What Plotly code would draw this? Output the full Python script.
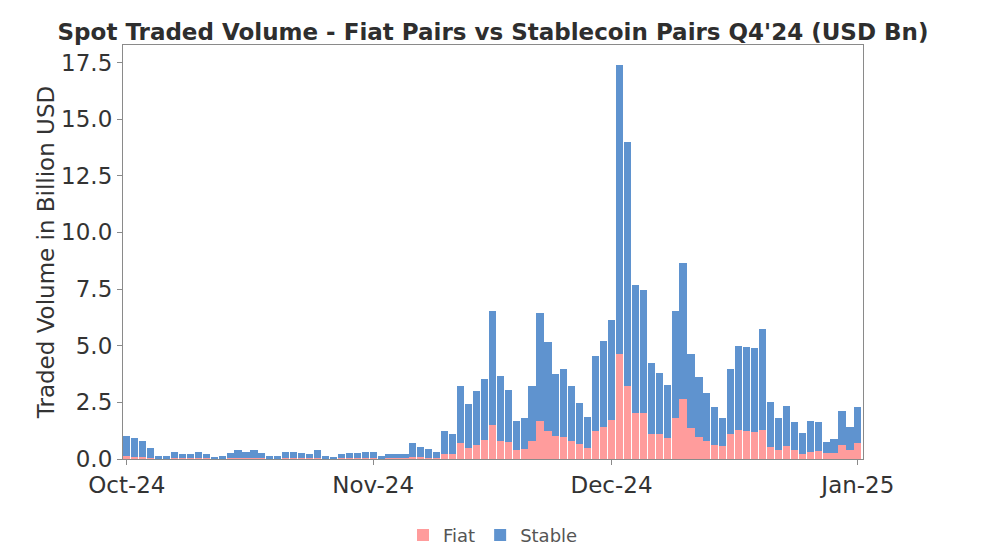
import pandas as pd
import plotly.graph_objects as go

# daily dates, Oct 1 2024 .. Jan 1 2025
dates = pd.date_range("2024-10-01", "2025-01-01", freq="D")

fiat = [
    # Oct
    0.12, 0.11, 0.10, 0.06, 0.02, 0.02, 0.04, 0.03, 0.03, 0.04, 0.03, 0.02, 0.02, 0.03, 0.04, 0.04,
    0.04, 0.03, 0.02, 0.02, 0.04, 0.04, 0.03, 0.03, 0.04, 0.02, 0.02, 0.03, 0.03, 0.03, 0.04,
    # Nov
    0.04, 0.02, 0.03, 0.03, 0.03, 0.08, 0.07, 0.06, 0.05, 0.22, 0.22, 0.69, 0.50, 0.63, 0.84,
    1.50, 0.80, 0.77, 0.40, 0.44, 0.80, 1.67, 1.25, 1.00, 0.95, 0.80, 0.66, 0.50, 1.25, 1.40,
    # Dec
    1.71, 4.64, 3.23, 2.03, 2.03, 1.10, 1.10, 0.93, 1.83, 2.67, 1.35, 0.97, 0.78, 0.60, 0.57, 1.12,
    1.28, 1.25, 1.19, 1.28, 0.54, 0.40, 0.56, 0.40, 0.22, 0.32, 0.35, 0.26, 0.26, 0.60, 0.40,
    # Jan 1
    0.69,
]

stable = [
    # Oct
    0.88, 0.82, 0.68, 0.41, 0.10, 0.10, 0.27, 0.19, 0.17, 0.29, 0.19, 0.08, 0.10, 0.25, 0.34, 0.26,
    0.36, 0.22, 0.11, 0.10, 0.27, 0.27, 0.25, 0.19, 0.36, 0.12, 0.08, 0.17, 0.22, 0.22, 0.26,
    # Nov
    0.28, 0.13, 0.19, 0.20, 0.20, 0.62, 0.47, 0.40, 0.28, 1.03, 0.88, 2.51, 1.91, 2.35, 2.71,
    5.02, 2.87, 2.26, 1.26, 1.36, 2.43, 4.76, 3.92, 2.77, 3.00, 2.40, 1.81, 1.34, 3.31, 3.81,
    # Dec
    4.43, 12.76, 10.77, 5.64, 5.43, 3.13, 2.70, 2.32, 4.69, 5.96, 3.27, 2.63, 2.12, 1.71, 1.25, 2.83,
    3.72, 3.71, 3.71, 4.45, 1.98, 1.40, 1.79, 1.22, 0.91, 1.37, 1.27, 0.47, 0.62, 1.52, 1.02,
    # Jan 1
    1.61,
]

tick_dates = ["2024-10-01", "2024-11-01", "2024-12-01", "2025-01-01"]
tick_labels = ["Oct-24", "Nov-24", "Dec-24", "Jan-25"]

FIAT_COLOR = "#ff9c9c"
STABLE_COLOR = "#5f93cf"
DAY_MS = 86400000

fig = go.Figure()
fig.add_trace(go.Bar(x=dates, y=fiat, name="Fiat", marker_color=FIAT_COLOR,
                     width=0.9 * DAY_MS, marker_line_width=0))
fig.add_trace(go.Bar(x=dates, y=stable, name="Stable", marker_color=STABLE_COLOR,
                     width=0.9 * DAY_MS, marker_line_width=0))

axis_line = "#8a8a8a"
# page body keeps an 8px margin, so the figure is sized to fit inside the window
fig.update_layout(
    barmode="stack",
    width=968,
    height=538,
    plot_bgcolor="white",
    paper_bgcolor="white",
    font={"family": "DejaVu Sans", "color": "#333333"},
    margin={"l": 115, "r": 113, "t": 37, "b": 87},
    title={
        "text": "<b>Spot Traded Volume - Fiat Pairs vs Stablecoin Pairs Q4'24 (USD Bn)</b>",
        "x": 0.5,
        "xref": "paper",
        "xanchor": "center",
        "yref": "container",
        "y": 0.955,
        "yanchor": "middle",
        "font": {"size": 23, "color": "#2e2e2e"},
    },
    xaxis={
        "type": "date",
        "range": ["2024-09-30 12:30", "2025-01-01 15:30"],
        "tickvals": tick_dates,
        "ticktext": tick_labels,
        "ticks": "outside",
        "ticklen": 5,
        "tickcolor": axis_line,
        "tickfont": {"size": 23, "color": "#333333"},
        "showline": True,
        "linecolor": axis_line,
        "linewidth": 1.2,
        "mirror": True,
        "showgrid": False,
        "zeroline": False,
        "automargin": False,
    },
    yaxis={
        "range": [0, 18.27],
        "tickvals": [0, 2.5, 5, 7.5, 10, 12.5, 15, 17.5],
        "tickformat": ".1f",
        "ticks": "outside",
        "ticklen": 5,
        "tickcolor": axis_line,
        "tickfont": {"size": 23, "color": "#333333"},
        "title": {"text": "Traded Volume in Billion USD", "font": {"size": 23, "color": "#333333"},
                  "standoff": 0},
        "showline": True,
        "linecolor": axis_line,
        "linewidth": 1.2,
        "mirror": True,
        "showgrid": False,
        "zeroline": False,
        "automargin": False,
    },
    legend={
        "orientation": "h",
        "x": 0.5,
        "xanchor": "center",
        "yref": "container",
        "y": 0.02,
        "yanchor": "middle",
        "font": {"size": 18, "color": "#555555"},
        "traceorder": "normal",
    },
    showlegend=True,
)

fig.write_html("out.html")
